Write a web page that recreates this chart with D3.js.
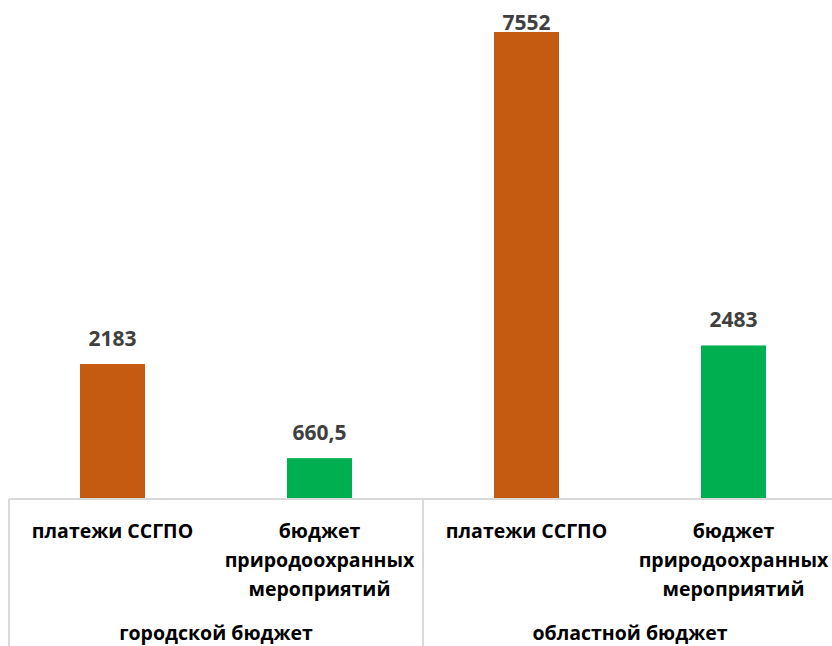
<!DOCTYPE html>
<html><head><meta charset="utf-8">
<script src="https://cdn.jsdelivr.net/npm/d3@7"></script>
<style>html,body{margin:0;padding:0;background:#fff;}svg{display:block;}</style>
</head><body>
<svg id="c" width="832" height="646"></svg>
<script>
const groups = ["городской бюджет", "областной бюджет"];
const categories = ["платежи ССГПО", "бюджет природоохранных мероприятий"];
const categoryLines = [["платежи ССГПО"], ["бюджет", "природоохранных", "мероприятий"]];
const values = [2183, 660.5, 7552, 2483];
const valueLabels = ["2183", "660,5", "7552", "2483"];
const colors = ["#C55A11", "#00B050"];

(function () {
const svg = d3.select("#c");
const L = 9, R = 837, base = 499, T = 32;
const font = "'Open Sans', sans-serif";
const items = [];
groups.forEach((g, gi) => categories.forEach((c, ci) => items.push({g, gi, c, ci, key: gi + "-" + ci})));
items.forEach((d, i) => { d.v = values[i]; d.label = valueLabels[i]; });

const x = d3.scaleBand().domain(items.map(d => d.key)).range([L, R]).paddingInner(0.686).paddingOuter(0.343);
const xg = d3.scaleBand().domain(groups).range([L, R]);
const y = d3.scaleLinear().domain([0, 7552]).range([base, T]);

svg.selectAll("rect.bar").data(items).enter().append("rect")
  .attr("x", d => x(d.key)).attr("width", x.bandwidth())
  .attr("y", d => y(d.v)).attr("height", d => base - y(d.v))
  .attr("fill", d => colors[d.ci]);

svg.selectAll("text.val").data(items).enter().append("text")
  .attr("x", d => x(d.key) + x.bandwidth() / 2)
  .attr("y", d => Math.max(y(d.v) - 18, 30))
  .attr("text-anchor", "middle")
  .attr("font-family", font).attr("font-weight", "bold")
  .attr("font-size", 21).attr("fill", "#404040")
  .text(d => d.label);

const ax = svg.append("g").attr("stroke", "#d9d9d9").attr("stroke-width", 2);
ax.append("line").attr("x1", L).attr("x2", R).attr("y1", base).attr("y2", base);
groups.forEach(g => {
  ax.append("line").attr("x1", xg(g)).attr("x2", xg(g)).attr("y1", base).attr("y2", 646);
});

const lineY = [538, 567, 596];
items.forEach(d => {
  const cx = x(d.key) + x.bandwidth() / 2;
  categoryLines[d.ci].forEach((t, li) => {
    svg.append("text").attr("x", cx).attr("y", lineY[li])
      .attr("text-anchor", "middle")
      .attr("font-family", font).attr("font-weight", "bold")
      .attr("font-size", 19.5).attr("fill", "#000")
      .text(t);
  });
});
groups.forEach(g => {
  svg.append("text").attr("x", xg(g) + xg.bandwidth() / 2).attr("y", 640)
    .attr("text-anchor", "middle")
    .attr("font-family", font).attr("font-weight", "bold")
    .attr("font-size", 19.5).attr("fill", "#000")
    .text(g);
});
})();
</script>
</body></html>
